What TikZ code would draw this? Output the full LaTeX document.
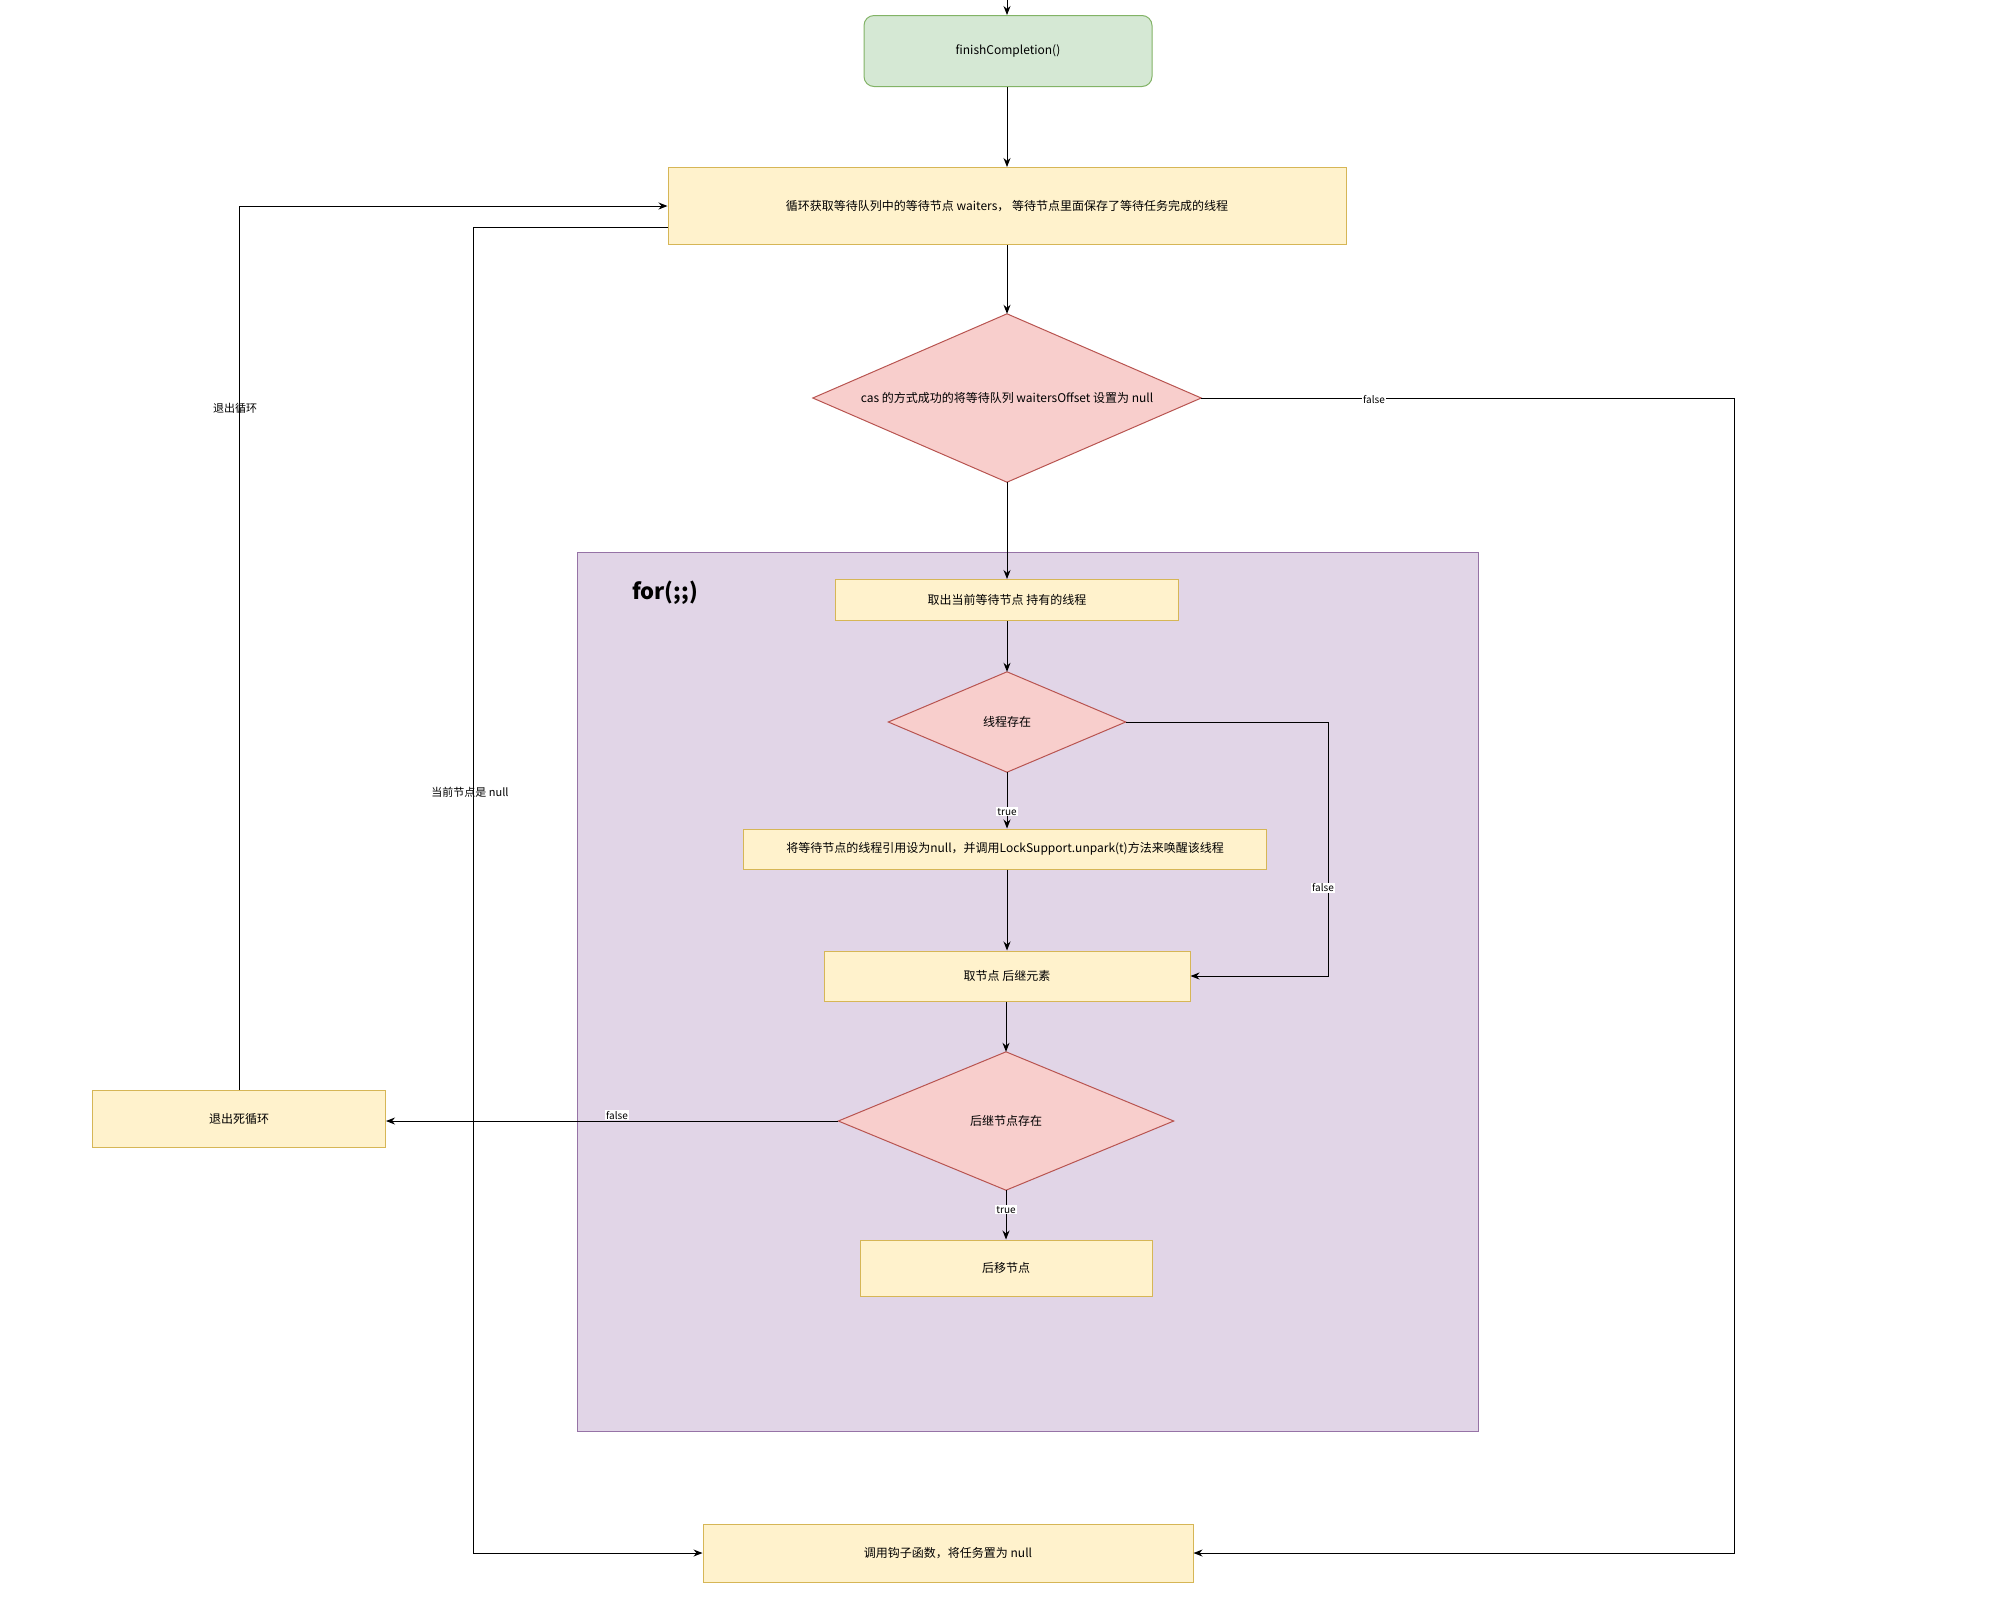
\documentclass[tikz,border=0pt]{standalone}
\usepackage{fontspec}
\setmainfont{Noto Sans CJK SC}
\usetikzlibrary{arrows.meta,calc}
\definecolor{gfill}{HTML}{D5E8D4}\definecolor{gline}{HTML}{82B366}
\definecolor{yfill}{HTML}{FFF2CC}\definecolor{yline}{HTML}{D6B656}
\definecolor{rfill}{HTML}{F8CECC}\definecolor{rline}{HTML}{B85450}
\definecolor{pfill}{HTML}{E1D5E7}\definecolor{pline}{HTML}{9673A6}
\tikzset{
  gbox/.style={draw=gline,fill=gfill,rounded corners=10pt,line width=1pt,font=\fontsize{12}{14}\selectfont,inner sep=0pt},
  ybox/.style={draw=yline,fill=yfill,line width=1pt,font=\fontsize{12}{14}\selectfont,inner sep=0pt},
  dtext/.style={inner sep=0pt,font=\fontsize{12}{14}\selectfont},
  dshape/.style={draw=rline,fill=rfill,line width=1pt},
  arr/.style={draw=black,line width=1pt,-{Stealth[length=9pt,width=7pt]}},
  lbl/.style={fill=white,inner sep=1pt,font=\fontsize{10}{12}\selectfont},
  elbl/.style={inner sep=1pt,font=\fontsize{11}{13}\selectfont}
}
\begin{document}
\begin{tikzpicture}[x=1pt,y=-1pt]
\useasboundingbox (0,0) rectangle (2012,1618);
% container
\draw[draw=pline,fill=pfill,line width=1pt] (577,552) rectangle (1478,1431);
\node[anchor=west,font=\fontsize{22}{26}\selectfont\bfseries,inner sep=0pt] (forlbl) at (632,593) {for(;;)};
% nodes
\node[gbox,minimum width=288,minimum height=71] (fin) at (1008,51) {finishCompletion()};
\node[ybox,minimum width=678,minimum height=77] (loop) at (1007,206) {循环获取等待队列中的等待节点 waiters， 等待节点里面保存了等待任务完成的线程};
\node[dtext,minimum width=388,minimum height=168] (cas) at (1007,398) {};
\draw[dshape] (cas.north) -- (cas.east) -- (cas.south) -- (cas.west) -- cycle;
\node[dtext] at (cas.center) {cas 的方式成功的将等待队列 waitersOffset 设置为 null};
\node[ybox,minimum width=343,minimum height=41] (take) at (1007,600) {取出当前等待节点 持有的线程};
\node[dtext,minimum width=237,minimum height=100] (thr) at (1007,722) {};
\draw[dshape] (thr.north) -- (thr.east) -- (thr.south) -- (thr.west) -- cycle;
\node[dtext] at (thr.center) {线程存在};
\node[ybox,minimum width=523,minimum height=40] (wake) at (1005,849) {将等待节点的线程引用设为null，并调用LockSupport.unpark(t)方法来唤醒该线程};
\node[ybox,minimum width=366,minimum height=50] (get) at (1007,976) {取节点 后继元素};
\node[dtext,minimum width=335,minimum height=138] (succ) at (1006,1121) {};
\draw[dshape] (succ.north) -- (succ.east) -- (succ.south) -- (succ.west) -- cycle;
\node[dtext] at (succ.center) {后继节点存在};
\node[ybox,minimum width=292,minimum height=56] (move) at (1006,1268) {后移节点};
\node[ybox,minimum width=293,minimum height=57] (exit) at (239,1119) {退出死循环};
\node[ybox,minimum width=490,minimum height=58] (call) at (948,1553) {调用钩子函数，将任务置为 null};
% connectors
\coordinate (top) at (1007,0);
\draw[arr] (top) -- (top |- fin.north);
\draw[arr] (fin.south -| loop.north) -- (loop.north);
\draw[arr] (loop.south) -- (cas.north);
\draw[arr] (cas.south) -- (take.north);
\draw[arr] (cas.east) -- (1734,398) |- (call.east);
\node[lbl] at (1374,400) {false};
\draw[arr] (take.south) -- (thr.north);
\draw[arr] (thr.south) -- (thr.south |- wake.north) node[lbl,pos=0.7] {true};
\draw[arr] (thr.east) -- (1328,722) |- (get.east);
\node[lbl] at (1323,888) {false};
\draw[arr] (wake.south -| get.north) -- (get.north);
\draw[arr] (get.south -| succ.north) -- (succ.north);
\draw[arr] (succ.south) -- (move.north) node[lbl,pos=0.4] {true};
\draw[arr] (succ.west) -- (succ.west -| exit.east);
\node[lbl] at (617,1115) {false};
\draw[arr] (exit.north) |- (loop.west);
\node[elbl] at (235,408) {退出循环};
\draw[arr] ([yshift=-21pt]loop.west) -- (473,227) |- (call.west);
\node[elbl] at (470,792) {当前节点是 null};
\end{tikzpicture}
\end{document}
